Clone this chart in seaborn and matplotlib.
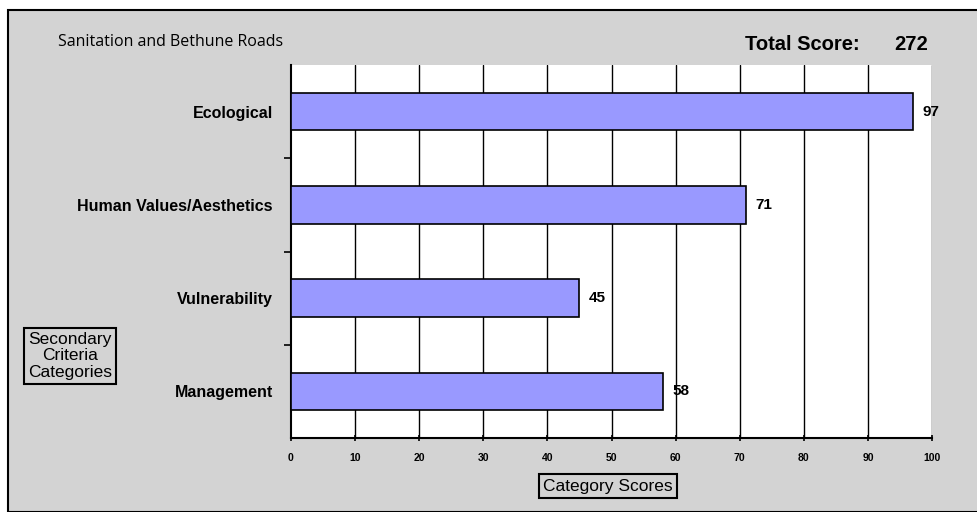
import matplotlib
matplotlib.use("Agg")
import matplotlib.pyplot as plt
from matplotlib.patches import Rectangle
import seaborn as sns
import pandas as pd

# ---- data ----
categories = ["Ecological", "Human Values/Aesthetics", "Vulnerability", "Management"]
scores = [97, 71, 45, 58]
total_score = 272
x_ticks = [0, 10, 20, 30, 40, 50, 60, 70, 80, 90, 100]

df = pd.DataFrame({"category": categories, "score": scores})

sns.set_theme(style="white")
plt.rcParams["font.family"] = ["Liberation Sans", "DejaVu Sans"]
plt.rcParams["text.color"] = "black"
plt.rcParams["xtick.labelcolor"] = "black"
plt.rcParams["ytick.labelcolor"] = "black"

bg = "#d3d3d3"
fig = plt.figure(figsize=(9.77, 5.12), dpi=100)
fig.patch.set_facecolor("white")

# grey panel with black frame
fig.patches.append(Rectangle((8 / 977, 0.0), 1.0, 1 - 10 / 512, transform=fig.transFigure,
                             facecolor=bg, edgecolor="black", linewidth=1.5, zorder=-5))

ax = fig.add_axes([291 / 977, 1 - 438 / 512, 641 / 977, 373 / 512])
ax.set_facecolor("white")

sns.barplot(data=df, x="score", y="category", orient="h", color="#9999ff",
            saturation=1, width=0.4, edgecolor="black", linewidth=1.2, ax=ax, zorder=3)

ax.set_xlim(0, 100)
ax.set_ylim(3.5, -0.5)
ax.set_xticks(x_ticks)
ax.set_xticklabels([str(t) for t in x_ticks], fontsize=7.5, fontweight="bold")
for t in x_ticks[1:]:
    ax.axvline(t, color="black", linewidth=1.0, zorder=1)

ax.set_yticks(range(len(categories)))
ax.set_yticklabels(categories, fontsize=11.5, fontweight="bold")
ax.tick_params(axis="y", length=0, pad=13)
ax.set_yticks([0.5, 1.5, 2.5], minor=True)
ax.tick_params(axis="y", which="minor", length=5, width=1.2, color="black", left=True)
ax.tick_params(axis="x", length=5, width=1.2, color="black", direction="inout", pad=8, bottom=True)

for side in ["top", "right"]:
    ax.spines[side].set_visible(False)
for side in ["left", "bottom"]:
    ax.spines[side].set_color("black")
    ax.spines[side].set_linewidth(1.5)

ax.set_xlabel("")
ax.set_ylabel("")

for i, v in enumerate(scores):
    ax.text(v + 1.5, i, str(v), va="center", ha="left", fontsize=11, fontweight="bold", zorder=4)

fig.text(58 / 977, 1 - 42 / 512, "Sanitation and Bethune Roads", fontsize=11.5,
         ha="left", va="center", family=["Open Sans", "DejaVu Sans"])
fig.text(745 / 977, 1 - 44 / 512, "Total Score:", fontsize=14.5, fontweight="bold",
         ha="left", va="center")
fig.text(928 / 977, 1 - 44 / 512, str(total_score), fontsize=14.5, fontweight="bold",
         ha="right", va="center")

box = dict(boxstyle="square,pad=0.25", facecolor=bg, edgecolor="black", linewidth=1.5)
fig.text(70 / 977, 1 - 356 / 512, "Secondary\nCriteria\nCategories", fontsize=12.5,
         ha="center", va="center", linespacing=1.1, bbox=box)
fig.text(608 / 977, 1 - 486 / 512, "Category Scores", fontsize=12.5,
         ha="center", va="center", bbox=box)

fig.savefig("out.png", dpi=100, facecolor=fig.get_facecolor())
